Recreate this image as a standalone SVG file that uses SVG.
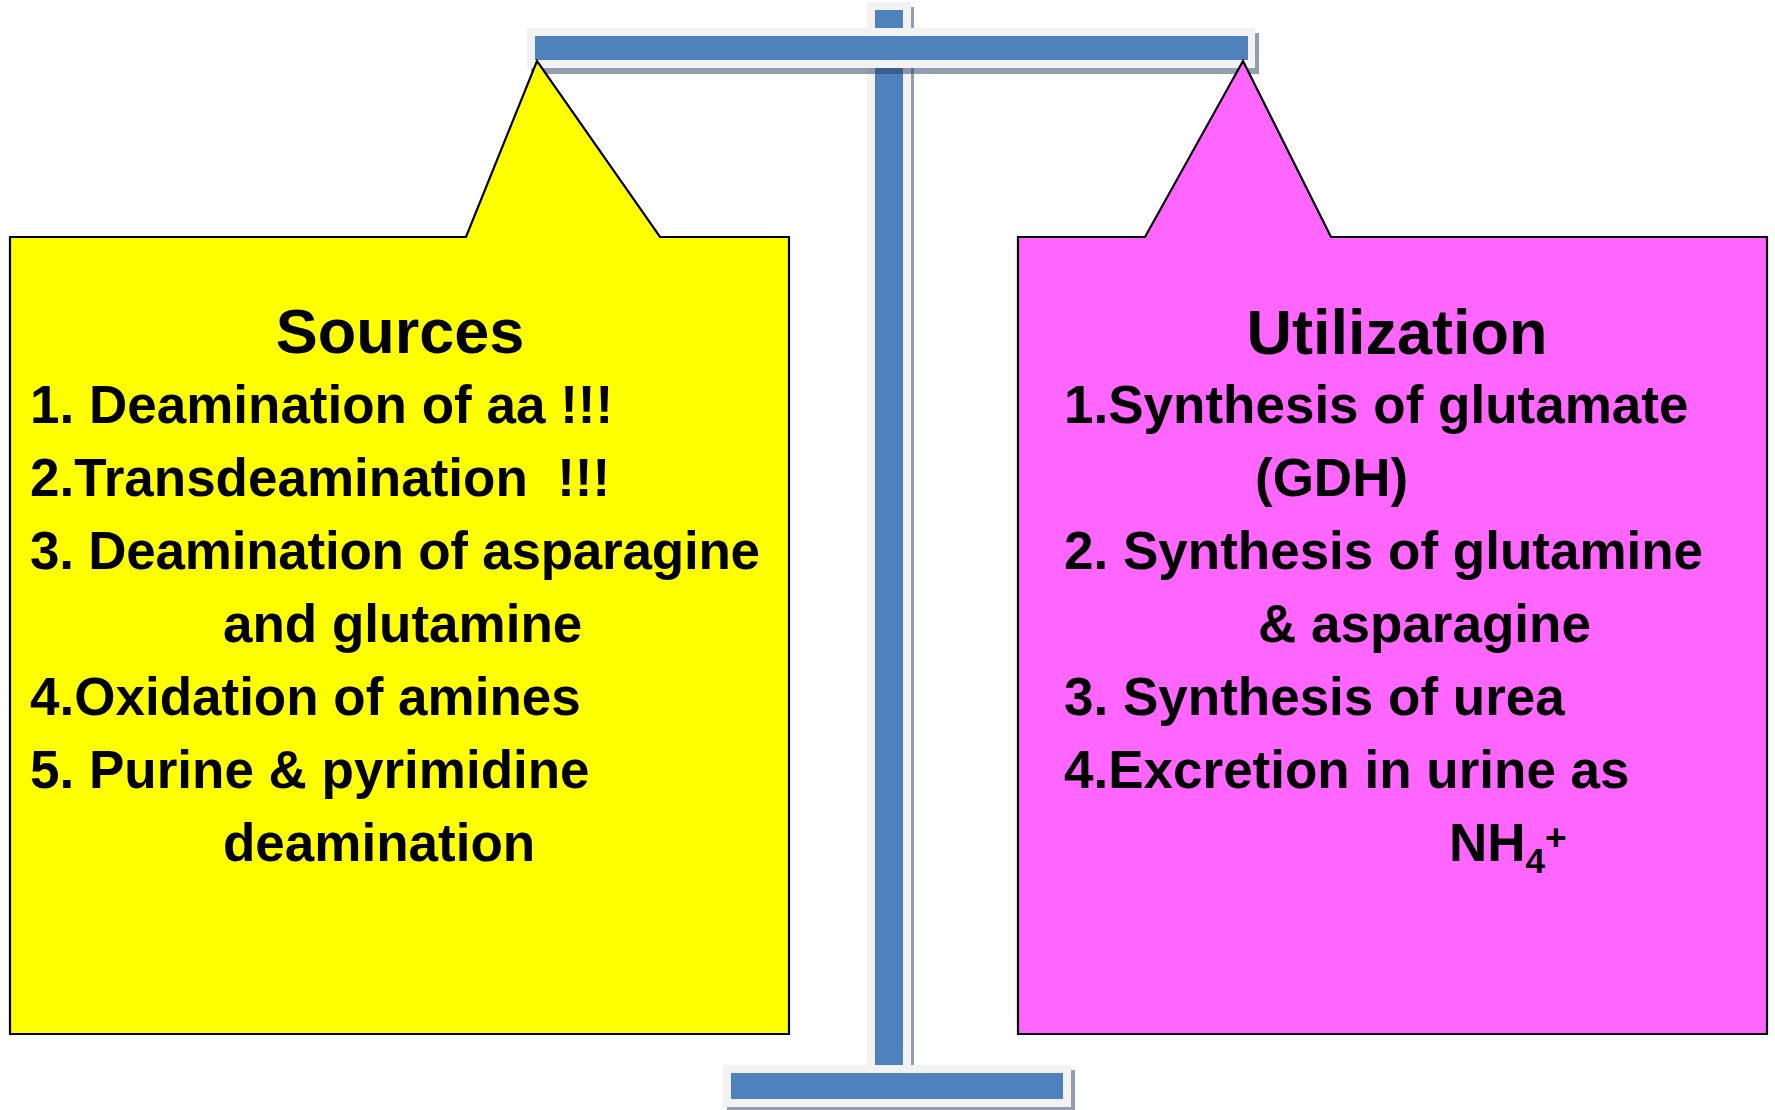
<svg xmlns="http://www.w3.org/2000/svg" width="1775" height="1110" viewBox="0 0 1775 1110">
<style>
.frame{fill:#F2F2F2}
.blue{fill:#4F81BD}
.shadow{fill:#263D62;opacity:0.5}
.callout{stroke:#000;stroke-width:2.2;stroke-linejoin:miter}
.t{font-family:"Liberation Sans",Arial,sans-serif;font-weight:bold;fill:#000}
.title{font-size:63px;text-anchor:middle}
.item{font-size:53px}
</style>
<rect width="1775" height="1110" fill="#FFFFFF"/>
<g id="scale">
  <g id="post">
    <rect class="shadow" x="870" y="7" width="44" height="1063"/>
    <rect class="frame" x="867" y="2" width="44" height="1063"/>
    <rect class="blue" x="875" y="10" width="28" height="1055"/>
  </g>
  <g id="beam">
    <rect class="shadow" x="531" y="33" width="728" height="41"/>
    <rect class="frame" x="527" y="28" width="728" height="40"/>
    <rect class="blue" x="535" y="36" width="713" height="24"/>
  </g>
  <g id="base">
    <rect class="shadow" x="727" y="1070" width="348" height="42"/>
    <rect class="frame" x="723" y="1065" width="348" height="42"/>
    <rect class="blue" x="731" y="1073" width="332" height="26"/>
  </g>
</g>
<g id="connectors"></g>
<g id="sources">
  <path class="callout" fill="#FFFF00" d="M10,237 L466,237 L537,61 L660,237 L789,237 L789,1034 L10,1034 Z"/>
  <text class="t title" x="400" y="353">Sources</text>
  <text class="t item" x="30" y="423">1. Deamination of aa !!!</text>
  <text class="t item" x="30" y="496" xml:space="preserve">2.Transdeamination  !!!</text>
  <text class="t item" x="30" y="569" textLength="730" lengthAdjust="spacing">3. Deamination of asparagine</text>
  <text class="t item" x="223" y="642">and glutamine</text>
  <text class="t item" x="30" y="715">4.Oxidation of amines</text>
  <text class="t item" x="30" y="788">5. Purine &amp; pyrimidine</text>
  <text class="t item" x="223" y="861">deamination</text>
</g>
<g id="utilization">
  <path class="callout" fill="#FF66FF" d="M1018,237 L1145,237 L1243,61 L1331,237 L1767,237 L1767,1034 L1018,1034 Z"/>
  <text class="t title" x="1397" y="354">Utilization</text>
  <text class="t item" x="1064" y="423">1.Synthesis of glutamate</text>
  <text class="t item" x="1255" y="496">(GDH)</text>
  <text class="t item" x="1258" y="642">&amp; asparagine</text>
  <text class="t item" x="1064" y="569">2. Synthesis of glutamine</text>
  <text class="t item" x="1064" y="715">3. Synthesis of urea</text>
  <text class="t item" x="1064" y="788">4.Excretion in urine as</text>
  <text class="t item" x="1449" y="861">NH<tspan font-size="35" y="873">4</tspan><tspan font-size="37" y="850">+</tspan></text>
</g>
</svg>
